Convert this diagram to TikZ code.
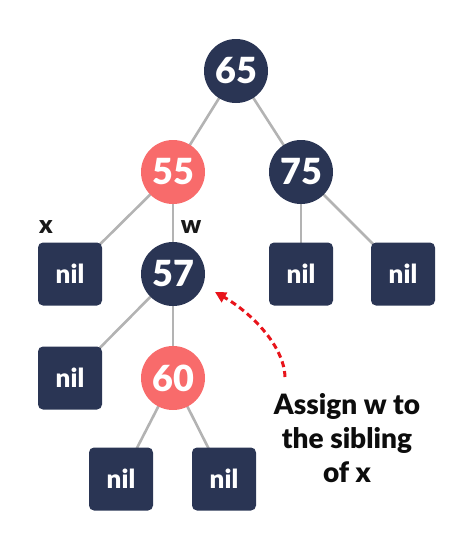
\documentclass[tikz,border=0pt]{standalone}
\usepackage{fontspec}
\setmainfont{Lato}[BoldFont={Lato Black}]
\usetikzlibrary{arrows.meta,backgrounds}
\definecolor{navy}{HTML}{2A3554}
\definecolor{pinkred}{HTML}{F86B6B}
\definecolor{edgegray}{HTML}{B3B3B3}
\definecolor{arrowred}{HTML}{E8141B}
\tikzset{
  rbnode/.style={circle, minimum size=64pt, inner sep=0pt, text=white, font=\fontsize{36}{36}\selectfont\bfseries},
  blacknode/.style={rbnode, fill=navy},
  rednode/.style={rbnode, fill=pinkred},
  nilnode/.style={rectangle, rounded corners=5pt, minimum width=64pt, minimum height=63pt, inner sep=0pt, fill=navy, text=white, font=\fontsize{26}{26}\selectfont\bfseries},
  edge/.style={draw=edgegray, line width=2.6pt},
  lbl/.style={font=\fontsize{25}{25}\selectfont\bfseries, text=black!90},
}
\begin{document}
\begin{tikzpicture}[x=1pt,y=-1pt]
\useasboundingbox (0,0) rectangle (474,550);
\node[blacknode] (n65) at (236,71) {65};
\node[rednode] (n55) at (173,172) {55};
\node[blacknode] (n75) at (301,172) {75};
\node[nilnode] (nilx) at (70,274) {nil};
\node[blacknode] (n57) at (173,274) {57};
\node[nilnode] (nil75a) at (301,274) {nil};
\node[nilnode] (nil75b) at (403,274) {nil};
\node[nilnode] (nil57) at (70,378) {nil};
\node[rednode] (n60) at (173,378) {60};
\node[nilnode] (nil60a) at (121,479) {nil};
\node[nilnode] (nil60b) at (224,479) {nil};
\node[lbl] (lx) at (46,227) {x};
\node[lbl] (lw) at (191,227) {w};
\begin{scope}[on background layer]
\draw[edge] (n65.center) -- (n55.center);
\draw[edge] (n65.center) -- (n75.center);
\draw[edge] (n55.center) -- (nilx.center);
\draw[edge] (n55.center) -- (n57.center);
\draw[edge] (n75.center) -- (nil75a.center);
\draw[edge] (n75.center) -- (nil75b.center);
\draw[edge] (n57.center) -- (nil57.center);
\draw[edge] (n57.center) -- (n60.center);
\draw[edge] (n60.center) -- (nil60a.center);
\draw[edge] (n60.center) -- (nil60b.center);
\end{scope}
\node[font=\fontsize{28}{34}\selectfont\bfseries, text=black!95, align=center] (txt) at (347,438) {Assign w to\\the sibling\\of x};
\coordinate (as) at (285,377);
\coordinate (ae) at (215,292);
\draw[arrowred, line width=3pt, dash pattern=on 6pt off 4pt, -{Triangle[length=11pt,width=11pt]}] (as) .. controls (284,345) and (250,312) .. (ae);
\end{tikzpicture}
\end{document}
